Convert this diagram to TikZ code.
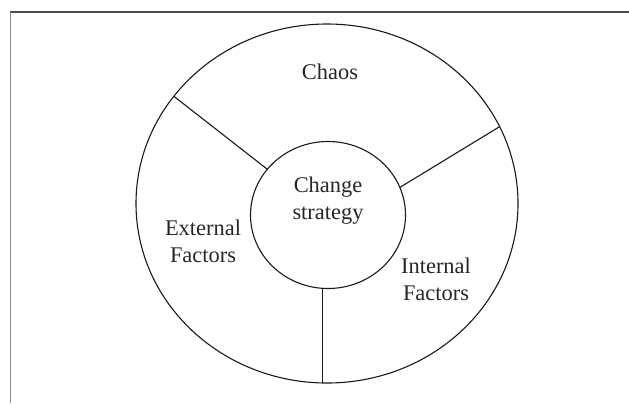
\documentclass[tikz,border=0pt]{standalone}
\usepackage{fontspec}
\setmainfont{Liberation Serif}
\usetikzlibrary{shapes.geometric}
\tikzset{
    rim/.style={
        ellipse,
        draw=black!90,
        line width=1.1bp,
        inner sep=0mm,
        outer sep=0mm
    },
    spoke/.style={draw=black!90,line width=1.1bp},
    word/.style={
        align=center,
        inner sep=0mm,
        text=black!85,
        font=\fontsize{22.5}{27}\selectfont
    }
}
\newcommand{\sectorlabel}[4] {
    \node[word] (#1) at (#2, #3) {#4};
}

\begin{document}
\begin{tikzpicture}[x=1bp,y=-1bp]
        \useasboundingbox (0,0) rectangle (629,403);
        % open frame, top and left only
        \draw[black!70,line width=1.2bp] (629,12) -- (10,12);
        \draw[black!45,line width=1bp] (10,12) -- (10,403);
        % rings
        \node[rim,minimum width=382bp,minimum height=359bp] (ring) at (327,203.5) {};
        \node[rim,minimum width=155bp,minimum height=147bp] (core) at (328,215) {};
        % spokes
        \draw[spoke] (ring.145) -- (core.143);
        \draw[spoke] (core.21) -- (ring.24);
        \draw[spoke] (core.266) -- (core.266 |- ring.south);
        % labels
        \sectorlabel{chaos}{330}{72}{Chaos}
        \sectorlabel{strategy}{328}{201}{Change\\strategy}
        \sectorlabel{external}{203}{241}{External\\Factors}
        \sectorlabel{internal}{436}{279}{Internal\\Factors}
    \end{tikzpicture}
\end{document}
